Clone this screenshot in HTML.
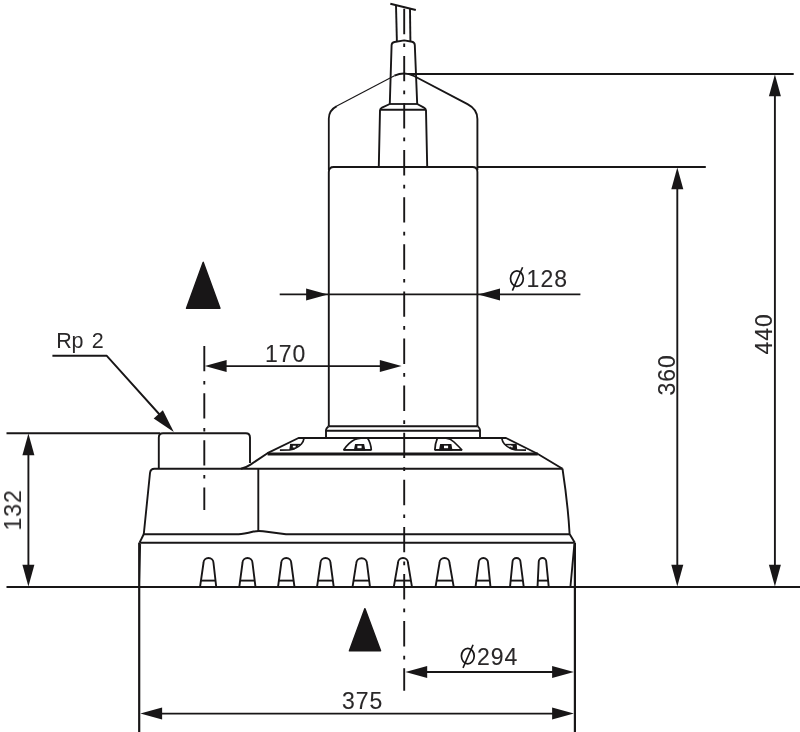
<!DOCTYPE html>
<html><head><meta charset="utf-8">
<style>
html,body{margin:0;padding:0;background:#fff;}
body{width:800px;height:732px;overflow:hidden;}
svg{display:block;}
text{font-family:"Liberation Sans",sans-serif;font-size:23px;fill:#2a2829;letter-spacing:1px;stroke:#2a2829;stroke-width:0.1px;}
</style></head><body>
<svg width="800" height="732" viewBox="0 0 800 732">
<rect width="800" height="732" fill="#fff"/>
<g fill="none" stroke="#181617" stroke-width="1.9" stroke-linejoin="round" stroke-linecap="butt">

<!-- cable -->
<path d="M390.3,3.8 L415.8,10" stroke-width="2"/>
<path d="M396,5.2 L396.9,41.6"/>
<path d="M410,9 L410.4,41.4"/>
<!-- connector -->
<path d="M389.8,104 L391.6,45 Q391.8,42.6 394.5,42 L404.2,40.4 L412,41.8 Q414.6,42.4 414.8,45 L417.2,104"/>
<path d="M389.6,104 L417.4,104" stroke-width="1.8"/>
<path d="M389.8,104 L382,107.6 Q380.2,108.4 380,110.4 L378.8,166.5"/>
<path d="M417.2,104 L424,107.6 Q425.8,108.4 426,110.4 L427.2,166.5"/>
<path d="M380.4,109.8 L425.8,109.8" stroke-width="2"/>

<!-- handle -->
<path d="M336.8,106.1 L394.4,75.7" stroke-width="1.1"/>
<path d="M328.8,170 L328.8,118.5 Q328.8,110.4 336.8,106.1" stroke-width="1.8"/>
<path d="M394.4,75.7 Q399.4,73.5 404,73.5 Q409,73.5 414,76 L467.5,104.2 Q477.4,109.4 477.4,119 L477.4,170" stroke-width="1.9"/>

<!-- motor body -->
<path d="M328.8,426 L328.8,172 Q328.8,167 333.8,167 L472.4,167 Q477.4,167 477.4,172 L477.4,426"/>
<!-- ring -->
<path d="M328.8,426.2 L477.4,426.2" stroke-width="1.9"/>
<path d="M326,438 L326,430 Q326,428.6 328.6,426.2"/>
<path d="M480,438 L480,430 Q480,428.6 477.6,426.2"/>
<path d="M325.8,430.8 L480,430.8" stroke-width="1.9"/>

<!-- cover -->
<path d="M241,468.75 Q246,467.6 250.5,464.6 L267.5,453.2 L298.5,438 L506,438 L537.5,453.75 L562.5,468.75"/>
<path d="M267.6,454 L537.8,454" stroke-width="3.1"/>

<!-- bolts -->
<path d="M304,438.4 Q303.4,442 301.4,444 Q296.8,448.8 289.6,450 L279.9,450.1" stroke-width="1.7"/>
<path d="M300.4,444.6 L290,444.6" stroke-width="1.5"/>
<path d="M289.2,449.9 L290.2,444 L297.2,444 L298.4,446 L294.4,449.4 Z" fill="#181617" stroke="none"/>
<path d="M292.9,445.8 L296,445.8 L295.2,447.4 L292.8,447.6 Z" fill="#fff" stroke="none"/>

<path d="M343.4,449.95 L371.3,449.95" stroke-width="1.9"/>
<path d="M343.6,450 Q349,442.4 354.8,439.6 Q357.6,438.3 361,438.2" stroke-width="1.7"/>
<path d="M367.6,438.3 Q370.9,443 371.3,450.4" stroke-width="1.7"/>
<path d="M353.8,450.4 L355.1,443.9 L364.1,443.9 L365.4,450.4 Z" fill="#181617" stroke="none"/>
<rect x="357.4" y="445.7" width="4.2" height="2.5" fill="#fff" stroke="none"/>

<path d="M434.8,449.95 L462.2,449.95" stroke-width="1.9"/>
<path d="M462,450 Q459,446.8 454,442 Q450.5,438.6 446,438.2" stroke-width="1.7"/>
<path d="M437.3,438.3 Q435.2,443 434.8,450.4" stroke-width="1.7"/>
<path d="M438.9,450.4 L440.1,443.9 L451.4,443.9 L452.5,450.4 Z" fill="#181617" stroke="none"/>
<rect x="444" y="445.7" width="4.1" height="2.5" fill="#fff" stroke="none"/>

<path d="M501.8,438.4 Q502.4,442 504.4,444 Q509,448.8 515.4,449.9 L526,450.1" stroke-width="1.7"/>
<path d="M505.2,444.6 L516,444.6" stroke-width="1.5"/>
<path d="M512.6,444 L516.7,444 L517.2,449.9 L513,449.5 L509.4,447.6 Z" fill="#181617" stroke="none"/>
<path d="M509.8,445.7 L512.7,445.7 L512.7,447.6 L511,447.2 Z" fill="#fff" stroke="none"/>

<!-- outlet box -->
<path d="M158.8,468.75 L158.8,437.5 Q158.8,433.2 163,433.2 L245.8,433.2 Q250,433.2 250,437.5 L250,463"/>

<!-- base body -->
<path d="M562.5,468.75 L154.5,468.75 Q150.5,468.75 150,473 L143.8,534"/>
<path d="M562.5,468.75 Q568,505 569.6,534 L574.7,542.6"/>
<path d="M143.8,534 L139.6,542.6"/>
<path d="M143.8,534.3 L238.6,534.3 Q243,534.2 253.5,531.5 Q258.2,530.7 263,531.3 L286,534.3 L569.6,534.3"/>
<path d="M258.3,468.75 L258.3,531"/>
<path d="M139.6,542.8 L574.7,542.8" stroke-width="2.1"/>
<path d="M139.2,542.6 L139.2,732" stroke-width="2.2"/>
<path d="M574.9,542.6 L574.9,732" stroke-width="2.2"/>
<path d="M570.4,587 L574.4,544"/>
<path d="M139.4,587 L140.6,544" stroke-width="1"/>

<!-- slots -->
<path d="M200.00,587.1 L203.50,563.00 A5.00,5.00 0 0 1 213.50,563.00 L216.25,587.1" /><path d="M200.94,580.6 L215.51,580.6" />
<path d="M239.25,587.1 L242.50,563.00 A5.00,5.00 0 0 1 252.50,563.00 L255.50,587.1" /><path d="M240.13,580.6 L254.69,580.6" />
<path d="M278.00,587.1 L281.25,563.00 A5.00,5.00 0 0 1 291.25,563.00 L294.50,587.1" /><path d="M278.88,580.6 L293.62,580.6" />
<path d="M317.00,587.1 L320.50,563.00 A5.00,5.00 0 0 1 330.50,563.00 L333.75,587.1" /><path d="M317.94,580.6 L332.87,580.6" />
<path d="M352.50,587.1 L356.25,563.38 A5.38,5.38 0 0 1 367.00,563.38 L370.00,587.1" /><path d="M353.53,580.6 L369.18,580.6" />
<path d="M393.75,587.1 L398.00,563.00 A5.00,5.00 0 0 1 408.00,563.00 L412.00,587.1" /><path d="M394.90,580.6 L410.92,580.6" />
<path d="M435.50,587.1 L439.50,563.00 A5.00,5.00 0 0 1 449.50,563.00 L453.75,587.1" /><path d="M436.58,580.6 L452.60,580.6" />
<path d="M475.50,587.1 L478.75,562.62 A4.62,4.62 0 0 1 488.00,562.62 L490.50,587.1" /><path d="M476.36,580.6 L489.84,580.6" />
<path d="M510.00,587.1 L512.50,562.00 A4.00,4.00 0 0 1 520.50,562.00 L523.75,587.1" /><path d="M510.65,580.6 L522.91,580.6" />
<path d="M537.50,587.1 L538.75,561.75 A3.75,3.75 0 0 1 546.25,561.75 L548.75,587.1" /><path d="M537.82,580.6 L548.11,580.6" />

<!-- ground line -->
<path d="M6.5,587.1 L800,587.1" stroke-width="2"/>
<!-- extension lines -->
<path d="M6.5,433.2 L160,433.2"/>
<path d="M408,74.05 L793.7,74.05"/>
<path d="M477,167 L705.8,167"/>

<!-- dimension lines -->
<path d="M774.9,90 L774.9,570"/>
<path d="M677.3,185 L677.3,570"/>
<path d="M28.4,450 L28.4,570"/>
<path d="M279.7,294.4 L580.4,294.4"/>
<path d="M220,366.1 L385,366.1"/>
<path d="M420,672.0 L560,672.0"/>
<path d="M155,713.6 L560,713.6"/>
<!-- leader -->
<path d="M52.4,355.8 L106.8,355.8 L160,415"/>

<!-- centerlines -->
<path d="M404.2,8.8 L404.2,690.8" stroke-dasharray="25.4 9.2 3.7 8.8"/>
<path d="M204.3,346.1 L204.3,510" stroke-dasharray="25.2 9.6 3.5 8.8"/>
</g>

<polygon points="774.90,74.50 780.90,96.30 768.90,96.30" fill="#181617" stroke="none"/>
<polygon points="774.90,586.60 768.90,564.80 780.90,564.80" fill="#181617" stroke="none"/>
<polygon points="677.30,167.50 683.30,189.30 671.30,189.30" fill="#181617" stroke="none"/>
<polygon points="677.30,586.60 671.30,564.80 683.30,564.80" fill="#181617" stroke="none"/>
<polygon points="28.40,433.50 34.40,455.30 22.40,455.30" fill="#181617" stroke="none"/>
<polygon points="28.40,586.60 22.40,564.80 34.40,564.80" fill="#181617" stroke="none"/>
<polygon points="327.90,294.40 306.10,300.40 306.10,288.40" fill="#181617" stroke="none"/>
<polygon points="478.20,294.40 500.00,288.40 500.00,300.40" fill="#181617" stroke="none"/>
<polygon points="204.80,366.10 226.60,360.10 226.60,372.10" fill="#181617" stroke="none"/>
<polygon points="401.60,366.10 379.80,372.10 379.80,360.10" fill="#181617" stroke="none"/>
<polygon points="405.40,672.00 427.20,666.00 427.20,678.00" fill="#181617" stroke="none"/>
<polygon points="573.90,672.00 552.10,678.00 552.10,666.00" fill="#181617" stroke="none"/>
<polygon points="140.30,713.60 162.10,707.60 162.10,719.60" fill="#181617" stroke="none"/>
<polygon points="573.90,713.60 552.10,719.60 552.10,707.60" fill="#181617" stroke="none"/>
<polygon points="173.80,432.00 153.70,418.38 162.86,410.32" fill="#181617" stroke="none"/>

<!-- flow triangles -->
<path d="M203.2,262.4 L186.6,308.2 L219.9,308.2 Z" fill="#181617" stroke="#181617" stroke-width="1.6" stroke-linejoin="round"/>
<path d="M364.9,608.8 L349.5,650.8 L380.5,650.8 Z" fill="#181617" stroke="#181617" stroke-width="1.6" stroke-linejoin="round"/>

<!-- labels -->
<g opacity="0.999">
<text y="347.8" style="letter-spacing:0;font-size:21.5px;stroke:none"><tspan x="56.2">R</tspan><tspan x="71.6">p</tspan><tspan x="91.8">2</tspan></text>
<text x="265" y="361.6">170</text>
<text x="526.6" y="287.3">128</text>
<text x="477" y="664.5">294</text>
<text x="342" y="709">375</text>
<text transform="translate(21,530.5) rotate(-90)">132</text>
<text transform="translate(674.6,395.6) rotate(-90)">360</text>
<text transform="translate(771.8,354.6) rotate(-90)">440</text>
</g>
<!-- diameter symbols -->
<g fill="none" stroke="#181617" stroke-width="1.7">
<ellipse cx="516.9" cy="278.6" rx="6.4" ry="7.7"/>
<path d="M512.4,290.6 L522.6,267.2" stroke-width="1.6"/>
<ellipse cx="467.8" cy="656.1" rx="6.4" ry="7.7"/>
<path d="M463,667.9 L473.1,644.7" stroke-width="1.6"/>
</g>
</svg>
</body></html>
